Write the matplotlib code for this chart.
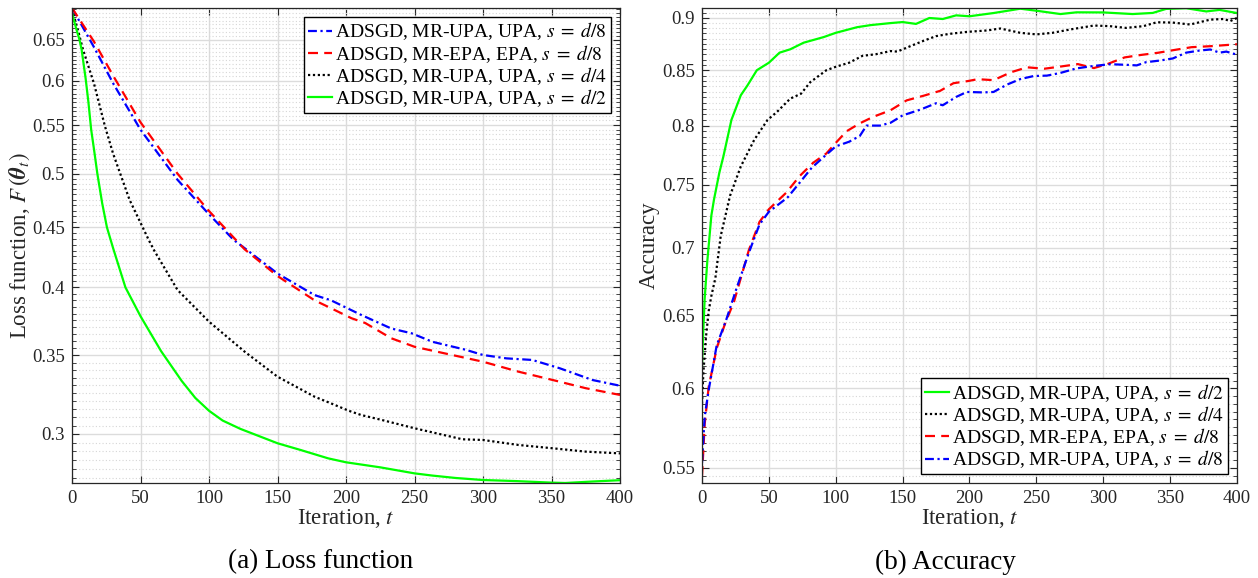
import numpy as np
import matplotlib
matplotlib.use("Agg")
import matplotlib.pyplot as plt
from matplotlib.ticker import FixedLocator, NullFormatter

plt.rcParams['font.family'] = ['Liberation Serif', 'DejaVu Serif']
plt.rcParams['mathtext.fontset'] = 'stix'

# ---- (a) loss function ----
t_green_a = [0, 3, 5.5, 7, 10, 12, 14, 16, 18.5, 22, 25.5, 30, 39, 50, 65, 80, 90, 100, 110,
             123, 150, 167, 187, 200, 225, 250, 263, 280, 300, 325, 350, 360, 380, 400]
loss_green = [0.685, 0.665, 0.65, 0.638, 0.602, 0.575, 0.545, 0.525, 0.50, 0.472, 0.45, 0.432,
              0.40, 0.378, 0.353, 0.333, 0.322, 0.314, 0.308, 0.303, 0.2946, 0.2907, 0.286,
              0.2838, 0.281, 0.2777, 0.2765, 0.2752, 0.2741, 0.2735, 0.2727, 0.2725, 0.2733,
              0.274]

t_black_a = [0, 4, 8, 16, 24, 30, 42, 56, 60, 77, 100, 126, 150, 177, 189, 202, 211, 226,
             250, 285, 300, 326, 351, 375, 400]
loss_black = [0.69, 0.665, 0.638, 0.597, 0.549, 0.520, 0.475, 0.439, 0.430, 0.398, 0.374,
              0.3526, 0.3357, 0.3228, 0.3186, 0.314, 0.3114, 0.3084, 0.3034, 0.2969, 0.2965,
              0.2936, 0.2917, 0.2898, 0.2888]

t_blue_a = [0, 16, 30, 50, 77, 99, 118, 126, 150, 177, 189, 211, 233, 248, 263, 287, 300,
            317, 336, 356, 380, 400]
loss_blue = [0.692, 0.641, 0.597, 0.545, 0.494, 0.463, 0.439, 0.432, 0.411, 0.394, 0.390,
             0.379, 0.369, 0.3655, 0.3595, 0.354, 0.3503, 0.348, 0.3469, 0.3413, 0.3335, 0.3298]

t_red_a = [0, 16, 30, 50, 77, 99, 126, 150, 177, 189, 204, 214, 233, 250, 300, 326, 351,
           375, 400]
loss_red = [0.692, 0.648, 0.606, 0.553, 0.500, 0.466, 0.431, 0.409, 0.390, 0.384, 0.3765,
            0.373, 0.362, 0.356, 0.3457, 0.339, 0.3335, 0.3282, 0.3239]

# ---- (b) accuracy ----
t_green_b = [0, 1, 2, 4, 7, 9, 13, 16, 22, 29, 34, 41, 50, 58, 66, 76, 91, 100, 116, 126,
             141, 150, 160, 170, 180, 190, 200, 218, 238, 250, 268, 280, 300, 322, 337, 347,
             362, 377, 387, 400]
acc_green = [0.615, 0.64, 0.662, 0.69, 0.725, 0.738, 0.76, 0.7735, 0.805, 0.827, 0.836, 0.850,
             0.857, 0.8665, 0.8697, 0.876, 0.8814, 0.8855, 0.891, 0.893, 0.895, 0.896, 0.8942,
             0.900, 0.899, 0.9026, 0.9017, 0.9049, 0.9092, 0.9072, 0.9039, 0.9056, 0.9055,
             0.9039, 0.905, 0.909, 0.9097, 0.9065, 0.908, 0.9049]

t_black_b = [0, 1, 3, 5, 7, 10, 14, 21, 29, 39, 49, 56, 66, 74, 81, 93, 100, 110, 120, 130,
             141, 146, 156, 166, 175, 185, 198, 213, 223, 238, 250, 262, 275, 293, 305, 317,
             330, 340, 352, 365, 380, 390, 395, 400]
acc_black = [0.59, 0.61, 0.635, 0.653, 0.664, 0.677, 0.709, 0.741, 0.765, 0.7875, 0.805, 0.812,
             0.824, 0.8284, 0.839, 0.850, 0.8532, 0.857, 0.8635, 0.865, 0.868, 0.8675, 0.8728,
             0.878, 0.8823, 0.8845, 0.8864, 0.8878, 0.8897, 0.8855, 0.884, 0.8855, 0.8887,
             0.8926, 0.892, 0.8903, 0.892, 0.8958, 0.8955, 0.8936, 0.8984, 0.899, 0.897, 0.900]

t_red_b = [0, 2, 5, 11, 17, 24, 29, 35, 43, 50, 63, 73, 83, 93, 100, 108, 118, 128, 141, 153,
           166, 178, 188, 199, 206, 218, 231, 243, 256, 268, 281, 293, 303, 316, 328, 341, 353,
           366, 381, 400]
acc_red = [0.545, 0.577, 0.601, 0.627, 0.6435, 0.66, 0.677, 0.698, 0.72, 0.73, 0.7434, 0.757,
           0.768, 0.776, 0.785, 0.795, 0.802, 0.8077, 0.8136, 0.8224, 0.8267, 0.831, 0.838,
           0.840, 0.8417, 0.8408, 0.8481, 0.8527, 0.8514, 0.8534, 0.8557, 0.852, 0.8557, 0.862,
           0.8643, 0.8664, 0.869, 0.8717, 0.8727, 0.8745]

t_blue_b = [0, 2, 5, 11, 18, 26, 35, 43, 50, 64, 73, 82, 91, 100, 110, 118, 123, 133, 141, 150,
            163, 175, 180, 190, 198, 210, 218, 228, 238, 248, 258, 268, 280, 293, 305, 318, 325,
            332, 342, 352, 362, 372, 380, 387, 392, 400]
acc_blue = [0.553, 0.5817, 0.599, 0.629, 0.6465, 0.670, 0.696, 0.718, 0.728, 0.7395, 0.7515,
            0.7639, 0.773, 0.782, 0.786, 0.791, 0.800, 0.800, 0.8025, 0.809, 0.814, 0.8198, 0.818,
            0.8255, 0.830, 0.8296, 0.830, 0.8367, 0.8418, 0.8446, 0.845, 0.8475, 0.8517, 0.854,
            0.8556, 0.855, 0.8545, 0.8575, 0.859, 0.861, 0.8665, 0.8685, 0.8695, 0.8665, 0.8675,
            0.8646]

loss_ticks = [0.3, 0.35, 0.4, 0.45, 0.5, 0.55, 0.6, 0.65]
acc_ticks = [0.55, 0.6, 0.65, 0.7, 0.75, 0.8, 0.85, 0.9]
x_ticks = [0, 50, 100, 150, 200, 250, 300, 350, 400]

lab_d8_upa = r'ADSGD, MR-UPA, UPA, $s\;=\;d/8$'
lab_d8_epa = r'ADSGD, MR-EPA, EPA, $s\;=\;d/8$'
lab_d4 = r'ADSGD, MR-UPA, UPA, $s\;=\;d/4$'
lab_d2 = r'ADSGD, MR-UPA, UPA, $s\;=\;d/2$'

# line styles (MATLAB-like)
st_blue = dict(color='blue', linestyle=(0, (4, 1.6, 1, 1.6)))
st_red = dict(color='red', linestyle=(0, (4.5, 2.8)))
st_black = dict(color='black', linestyle=(0, (1, 1.2)))
st_green = dict(color='#00ff00', linestyle='-')
lw = 1.6

fig = plt.figure(figsize=(12.58, 5.78), dpi=100)
ax1 = fig.add_axes([72 / 1258, 1 - 483 / 578, 548 / 1258, 475 / 578])
ax2 = fig.add_axes([702 / 1258, 1 - 483 / 578, 535 / 1258, 475 / 578])

TXT = '#262626'


def style_axis(ax, yticks, ylim):
    ax.set_yscale('log')
    ax.set_xlim(0, 400)
    ax.set_ylim(*ylim)
    ax.set_xticks(x_ticks)
    ax.set_xticklabels([str(v) for v in x_ticks])
    ax.yaxis.set_major_locator(FixedLocator(yticks))
    ax.set_yticklabels([('%g' % v) for v in yticks])
    ax.yaxis.set_minor_locator(FixedLocator(np.arange(0.25, 0.95, 0.005)))
    ax.yaxis.set_minor_formatter(NullFormatter())
    ax.grid(True, which='major', color='#dcdcdc', linewidth=1.0)
    ax.grid(True, which='minor', axis='y', color='#d6d6d6', linestyle=(0, (1, 2)), linewidth=0.8)
    ax.set_axisbelow(True)
    ax.tick_params(which='both', direction='in', top=True, right=True, labelsize=13.5,
                   colors=TXT, labelcolor=TXT)
    ax.tick_params(which='major', length=5, pad=5)
    ax.tick_params(which='minor', length=3)
    for sp in ax.spines.values():
        sp.set_color(TXT)
        sp.set_linewidth(0.9)
    ax.set_xlabel(r'Iteration, $t$', fontsize=16.5, color=TXT, labelpad=0)


def add_legend(ax, loc):
    leg = ax.legend(loc=loc, fontsize=14, fancybox=False, edgecolor='black', framealpha=1,
                    handlelength=1.25, handletextpad=0.15, borderpad=0.2, labelspacing=0.02,
                    borderaxespad=0.45)
    leg.get_frame().set_linewidth(1.0)
    return leg


ax1.plot(t_blue_a, loss_blue, linewidth=lw, label=lab_d8_upa, **st_blue)
ax1.plot(t_red_a, loss_red, linewidth=lw, label=lab_d8_epa, **st_red)
ax1.plot(t_black_a, loss_black, linewidth=lw, label=lab_d4, **st_black)
ax1.plot(t_green_a, loss_green, linewidth=lw, label=lab_d2, **st_green)
style_axis(ax1, loss_ticks, (0.2725, 0.692))
ax1.set_ylabel(r'Loss function, $F\,(\boldsymbol{\theta}_t)$', fontsize=16.5, color=TXT,
               labelpad=0)
add_legend(ax1, 'upper right')

ax2.plot(t_green_b, acc_green, linewidth=lw, label=lab_d2, **st_green)
ax2.plot(t_black_b, acc_black, linewidth=lw, label=lab_d4, **st_black)
ax2.plot(t_red_b, acc_red, linewidth=lw, label=lab_d8_epa, **st_red)
ax2.plot(t_blue_b, acc_blue, linewidth=lw, label=lab_d8_upa, **st_blue)
style_axis(ax2, acc_ticks, (0.541, 0.9099))
ax2.set_ylabel('Accuracy', fontsize=16.5, color=TXT, labelpad=2)
add_legend(ax2, 'lower right')

fig.text(321 / 1258, 1 - 562 / 578, '(a) Loss function', fontsize=19.5, ha='center', va='center')
fig.text(945 / 1258, 1 - 562 / 578, '(b) Accuracy', fontsize=19.5, ha='center', va='center')

fig.savefig('out.png', dpi=100)
